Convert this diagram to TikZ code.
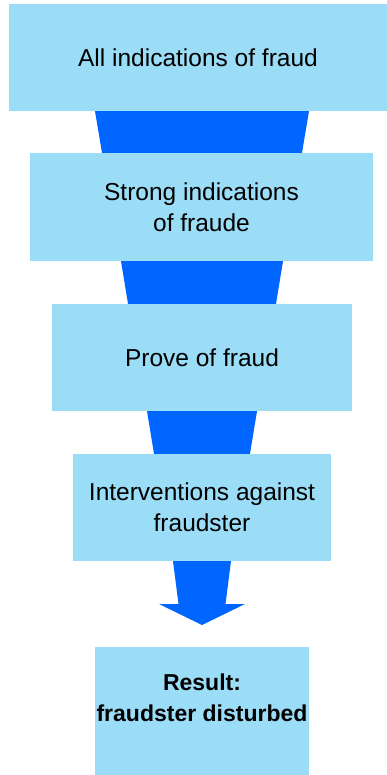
\documentclass[tikz,border=0pt]{standalone}
\usepackage{fontspec}
\setmainfont{Liberation Sans}
\definecolor{boxblue}{RGB}{155,221,246}
\definecolor{funnelblue}{RGB}{0,102,255}
\begin{document}
\begin{tikzpicture}[x=1pt,y=-1pt,
  stage/.style={rectangle, fill=boxblue, draw=none, inner sep=0pt, align=center,
    font=\fontsize{24.5}{31}\selectfont},
  funnel/.style={fill=funnelblue, draw=none}]
\useasboundingbox (0,0) rectangle (387,775);
\fill[white] (0,0) rectangle (387,775);
\node[stage, minimum width=378pt, minimum height=107pt] (b1) at (198,57.5) {All indications of fraud};
\node[stage, minimum width=343pt, minimum height=108pt] (b2) at (201.5,207) {Strong indications\\of fraude};
\node[stage, minimum width=300pt, minimum height=107pt] (b3) at (202,357.5) {Prove of fraud};
\node[stage, minimum width=258pt, minimum height=107pt] (b4) at (202,507.5) {Interventions against\\fraudster};
\node[stage, minimum width=214pt, minimum height=128pt] (b5) at (202,711) {};
\node[align=center, inner sep=0pt, font=\fontsize{23}{31}\selectfont\bfseries] (b5t) at (202,697.5) {Result:\\fraudster disturbed};
% funnel pieces
\coordinate (f1) at (202,0);
\fill[funnel] (f1 |- b1.south) ++(-107,0) -- ++(214,0) -- ([xshift=100pt]f1 |- b2.north) -- ([xshift=-100pt]f1 |- b2.north) -- cycle;
\fill[funnel] (f1 |- b2.south) ++(-81,0) -- ++(162,0) -- ([xshift=74pt]f1 |- b3.north) -- ([xshift=-74pt]f1 |- b3.north) -- cycle;
\fill[funnel] (f1 |- b3.south) ++(-55,0) -- ++(110,0) -- ([xshift=48pt]f1 |- b4.north) -- ([xshift=-48pt]f1 |- b4.north) -- cycle;
% final arrow
\coordinate (tip) at (202,625);
\fill[funnel] (f1 |- b4.south) ++(-29,0) -- ++(58,0) -- (225.5,604) -- (245,604) -- (tip) -- (159,604) -- (178.5,604) -- cycle;
\end{tikzpicture}
\end{document}
